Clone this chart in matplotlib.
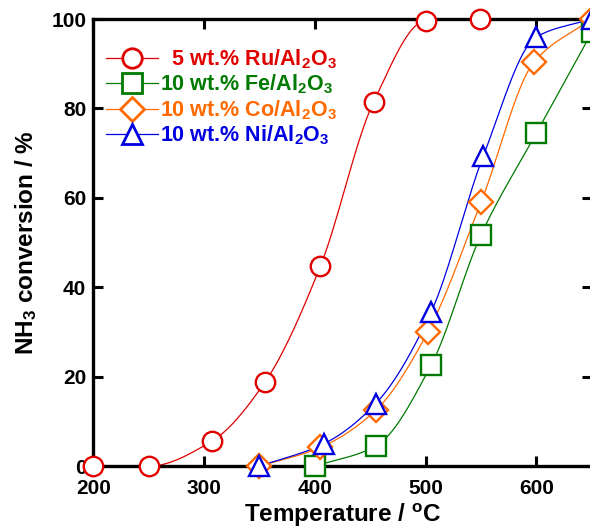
import numpy as np
import matplotlib
matplotlib.use('Agg')
import matplotlib.pyplot as plt

plt.rcParams['font.family'] = ['Liberation Sans', 'DejaVu Sans']
plt.rcParams['font.weight'] = 'bold'
plt.rcParams['mathtext.fontset'] = 'custom'
plt.rcParams['mathtext.rm'] = 'Liberation Sans:bold'
plt.rcParams['mathtext.it'] = 'Liberation Sans:bold'
plt.rcParams['mathtext.bf'] = 'Liberation Sans:bold'
plt.rcParams['mathtext.default'] = 'rm'

# データ (温度 / °C, 転化率 / %)
ru_t = [200, 250, 307, 355, 405, 453, 500, 549]
ru_y = [0, 0, 5.6, 18.8, 44.7, 81.4, 99.6, 99.9]
fe_t = [400, 455, 505, 550, 600, 650]
fe_y = [0, 4.5, 22.6, 51.7, 74.5, 97]
co_t = [350, 405, 455, 502, 550, 598, 650]
co_y = [0, 4.2, 12.5, 30, 59, 90.4, 100]
ni_t = [350, 408, 455, 505, 552, 600, 650]
ni_y = [0, 5, 14, 34.5, 69.3, 96, 100]

labels = ['  5 wt.% Ru/Al$_2$O$_3$', '10 wt.% Fe/Al$_2$O$_3$',
          '10 wt.% Co/Al$_2$O$_3$', '10 wt.% Ni/Al$_2$O$_3$']
colors = ['#e00000', '#007a00', '#ff6a00', '#0000e0']
markers = ['o', 's', 'D', '^']
msizes = [14, 14, 12, 15]


def smooth(x, y, n=300):
    # 単調な3次エルミート補間 (描画用の曲線)
    x = np.asarray(x, float)
    y = np.asarray(y, float)
    h = np.diff(x)
    d = np.diff(y) / h
    m = np.zeros_like(y)
    m[0], m[-1] = d[0], d[-1]
    for i in range(1, len(x) - 1):
        if d[i - 1] * d[i] > 0:
            w1 = 2 * h[i] + h[i - 1]
            w2 = h[i] + 2 * h[i - 1]
            m[i] = (w1 + w2) / (w1 / d[i - 1] + w2 / d[i])
    xs = np.linspace(x[0], x[-1], n)
    k = np.clip(np.searchsorted(x, xs) - 1, 0, len(x) - 2)
    t = (xs - x[k]) / h[k]
    h00 = 2 * t**3 - 3 * t**2 + 1
    h10 = t**3 - 2 * t**2 + t
    h01 = -2 * t**3 + 3 * t**2
    h11 = t**3 - t**2
    ys = h00 * y[k] + h10 * h[k] * m[k] + h01 * y[k + 1] + h11 * h[k] * m[k + 1]
    return xs, ys


fig = plt.figure(figsize=(5.9, 5.28), dpi=100)
ax = fig.add_axes([0.158, 0.117, 0.845, 0.847])

series = [(ru_t, ru_y), (fe_t, fe_y), (co_t, co_y), (ni_t, ni_y)]
handles = []
for (t, y), c, mk, ms, lab in zip(series, colors, markers, msizes, labels):
    xs, ys = smooth(t, y)
    ax.plot(xs, ys, color=c, lw=0.9, zorder=2)
    ax.plot(t, y, ls='none', marker=mk, ms=ms, mfc='white', mec=c, mew=1.7,
            zorder=3, clip_on=False)
    h, = ax.plot([], [], color=c, lw=0.9, marker=mk, ms=ms, mfc='white',
                 mec=c, mew=2.0)
    handles.append(h)

ax.set_xlim(200, 650)
ax.set_ylim(0, 100)
ax.set_xticks([200, 300, 400, 500, 600])
ax.set_yticks([0, 20, 40, 60, 80, 100])
ax.tick_params(direction='in', length=7, width=2.2, labelsize=15,
               top=True, right=True, pad=5)
ax.tick_params(axis='x', pad=9)
for s in ax.spines.values():
    s.set_linewidth(2.4)

ax.set_xlabel('Temperature / $^{o}$C', fontsize=17.5, fontweight='bold', labelpad=3)
ax.set_ylabel('NH$_3$ conversion / %', fontsize=17.5, fontweight='bold', labelpad=9)

leg = ax.legend(handles, labels, loc='upper left', bbox_to_anchor=(0.0, 0.965),
                frameon=False, fontsize=15.5, handlelength=2.4, handletextpad=0.12,
                labelspacing=0.08, borderaxespad=0.2)
for txt, c in zip(leg.get_texts(), colors):
    txt.set_color(c)
    txt.set_fontweight('bold')

plt.savefig('out.png', dpi=100)
